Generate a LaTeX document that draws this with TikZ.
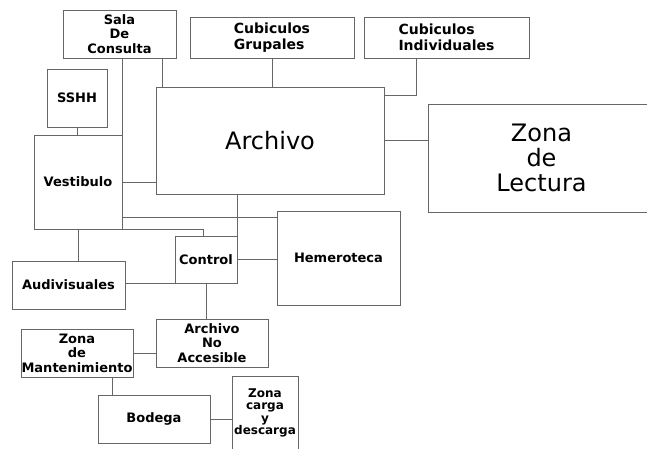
\documentclass[tikz,border=0pt]{standalone}
\usepackage{fontspec}
\setmainfont{DejaVu Sans}
\begin{document}
\begin{tikzpicture}[x=1pt,y=-1pt,
  box/.style={draw=black!60,line width=0.9pt,inner sep=0pt,align=center,
    font=\bfseries\fontsize{13}{14.5}\selectfont},
  cub/.style={box,align=left,font=\bfseries\fontsize{14}{16}\selectfont},
  big/.style={box,font=\fontsize{24}{25}\selectfont},
  link/.style={draw=black!60,line width=0.9pt}]
\useasboundingbox (0,0) rectangle (647,448);
\clip (0,0) rectangle (647,448);
\node[box,minimum width=113,minimum height=48] (sala) at (119.5,34) {Sala\\De\\Consulta};
\node[cub,minimum width=164,minimum height=41] (grup) at (272,37.5) {Cubiculos\\Grupales};
\node[cub,minimum width=165,minimum height=41] (ind) at (446.5,37.5) {Cubiculos\\Individuales};
\node[box,minimum width=60,minimum height=58] (sshh) at (77,98) {SSHH};
\node[box,minimum width=88,minimum height=94] (vest) at (78,182) {Vestibulo};
\node[big,minimum width=228,minimum height=107] (arch) at (270,140.5) {Archivo};
\node[big,minimum width=227,minimum height=108] (lect) at (541.5,158) {Zona\\de\\Lectura};
\node[box,minimum width=123,minimum height=94] (hem) at (338.5,258) {Hemeroteca};
\node[box,minimum width=62,minimum height=47] (ctrl) at (206,259.5) {Control};
\node[box,minimum width=113,minimum height=48] (aud) at (68.5,285) {Audivisuales};
\node[box,minimum width=112,minimum height=48] (ana) at (212,343) {Archivo\\No\\Accesible};
\node[box,minimum width=112,minimum height=48] (mant) at (77,353) {Zona\\de\\Mantenimiento};
\node[box,minimum width=112,minimum height=48] (bod) at (154,419) {Bodega};
\node[box,minimum width=66,minimum height=74,font=\bfseries\fontsize{12}{12.5}\selectfont] (carga) at (265,413) {Zona\\carga\\y\\descarga};
% connectors
\draw[link] (sala.south -| vest.north east) -- (vest.north east);
\draw[link] ([xshift=7pt]arch.north west) coordinate (t1) -- (t1 |- sala.south);
\draw[link] (grup.south) -- (grup.south |- arch.north);
\draw[link] ([xshift=53pt]ind.south west) |- ([yshift=-9pt]arch.north east);
\draw[link] (arch.east) -- (arch.east -| lect.west);
\draw[link] (sshh.south) -- (sshh.south |- vest.north);
\draw[link] (vest.east) -- (vest.east -| arch.west);
\draw[link] ([yshift=-7pt]hem.north west) coordinate (t2) -- (t2 -| vest.east);
\draw[link] (vest.south east) -| ([xshift=-3pt]ctrl.north);
\draw[link] (ctrl.north east |- arch.south) -- (ctrl.north east);
\draw[link] (ctrl.east) -- (ctrl.east -| hem.west);
\draw[link] (vest.south) -- (vest.south |- aud.north);
\draw[link] (aud.east |- ctrl.south west) -- (ctrl.south west);
\draw[link] (ctrl.south) -- (ctrl.south |- ana.north);
\draw[link] (mant.east) -- (mant.east -| ana.west);
\draw[link] ([xshift=15pt]bod.north west) coordinate (t3) -- (t3 |- mant.south);
\draw[link] (bod.east) -- (bod.east -| carga.west);
\end{tikzpicture}
\end{document}
